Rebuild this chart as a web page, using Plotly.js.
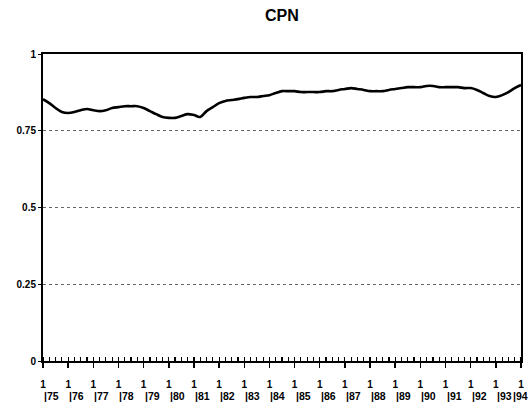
<!DOCTYPE html>
<html>
<head>
<meta charset="utf-8">
<script src="https://cdn.plot.ly/plotly-3.0.1.min.js"></script>
<style>html,body{margin:0;padding:0;background:#fff;}#chart{width:528px;height:410px;}</style>
</head>
<body>
<div id="chart"></div>
<script>
// Quarterly CPN values, 1975 Q1 .. 1994 Q1
const startYear = 1975;
const cpn = [
  0.853, 0.840, 0.824, 0.811,
  0.808, 0.811, 0.817, 0.821,
  0.817, 0.814, 0.817, 0.824,
  0.827, 0.830, 0.830, 0.830,
  0.824, 0.814, 0.804, 0.795,
  0.792, 0.792, 0.798, 0.804,
  0.801, 0.795, 0.814, 0.827,
  0.840, 0.847, 0.850, 0.853,
  0.857, 0.860, 0.860, 0.863,
  0.866, 0.873, 0.879, 0.879,
  0.879, 0.876, 0.876, 0.876,
  0.876, 0.879, 0.879, 0.883,
  0.886, 0.889, 0.886, 0.883,
  0.879, 0.879, 0.879, 0.883,
  0.886, 0.889, 0.892, 0.892,
  0.892, 0.896, 0.896, 0.892,
  0.892, 0.892, 0.892, 0.889,
  0.889, 0.883, 0.873, 0.863,
  0.860, 0.866, 0.876, 0.889,
  0.899
];
const tickYears = [1975,1976,1977,1978,1979,1980,1981,1982,1983,1984,1985,1986,1987,1988,1989,1990,1991,1992,1993,1994];
const quarterLabels = ["1","1","1","1","1","1","1","1","1","1","1","1","1","1","1","1","1","1","1","1"];
const yearLabels = ["75","76","77","78","79","80","81","82","83","84","85","86","87","88","89","90","91","92","93","94"];
const yTicks = [0, 0.25, 0.5, 0.75, 1];
const yTickText = ["0", "0.25", "0.5", "0.75", "1"];

const xs = cpn.map((v, i) => startYear + i / 4);
const font = "Liberation Sans, Arial, sans-serif";

const trace = {
  x: xs, y: cpn, type: "scatter", mode: "lines",
  line: {color: "#000", width: 2.6, shape: "spline", smoothing: 1},
  hoverinfo: "skip"
};

const last = tickYears.length - 1;
const annotations = tickYears.map((yr, i) => ({
  x: yr, xref: "x", y: 0, yref: "paper", yshift: -27,
  xshift: i === last ? 9 : -1,
  text: "|" + yearLabels[i], showarrow: false,
  xanchor: i === last ? "right" : "left", yanchor: "top",
  font: {family: font, size: 10.5, color: "#000", weight: "bold"}
}));

const layout = {
  width: 528, height: 410,
  margin: {l: 43, r: 7, t: 54, b: 49},
  paper_bgcolor: "#fff", plot_bgcolor: "#fff",
  showlegend: false,
  title: {text: "<b>CPN</b>", x: 0.534, xanchor: "center", y: 0.962, yanchor: "middle", yref: "container",
          font: {family: font, size: 16, color: "#000"}},
  xaxis: {
    range: [1975, 1994], tickvals: tickYears, ticktext: quarterLabels,
    ticks: "outside", ticklen: 5, tickwidth: 1.5, tickcolor: "#000",
    ticklabelstandoff: 8,
    minor: {dtick: 0.25, tick0: 1975, ticks: "inside", ticklen: 4, tickcolor: "#000", tickwidth: 1.2, showgrid: false},
    showgrid: false, zeroline: false, showline: true, linecolor: "#000", linewidth: 2,
    mirror: true,
    tickfont: {family: font, size: 10, color: "#000", weight: "bold"},
    fixedrange: true
  },
  yaxis: {
    range: [0, 1], tickvals: yTicks, ticktext: yTickText,
    ticks: "outside", ticklen: 3, tickcolor: "#000",
    showgrid: true, gridcolor: "#666", griddash: "dot", gridwidth: 1,
    zeroline: false, showline: true, linecolor: "#000", linewidth: 2, mirror: true,
    tickfont: {family: font, size: 10, color: "#000", weight: "bold"},
    fixedrange: true
  },
  annotations: annotations
};

Plotly.newPlot("chart", [trace], layout, {staticPlot: true, displayModeBar: false});
</script>
</body>
</html>
